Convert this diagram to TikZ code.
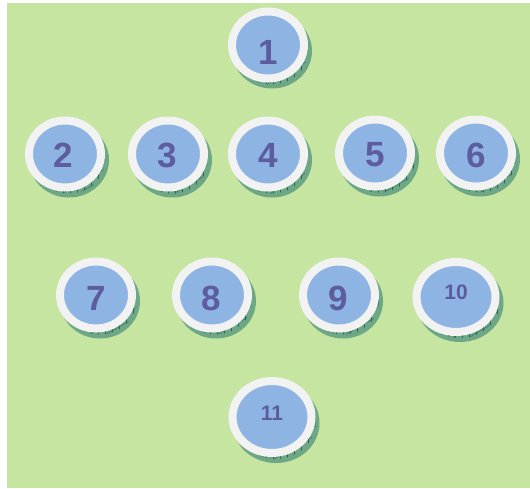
\documentclass[tikz,border=0pt]{standalone}
\usepackage{fontspec}
\setmainfont{Liberation Sans}
\usetikzlibrary{shapes.geometric, patterns.meta}
\definecolor{field}{RGB}{197, 229, 161}
\definecolor{rimwhite}{RGB}{242, 242, 242}
\definecolor{coinblue}{RGB}{141, 180, 226}
\definecolor{digit}{RGB}{92, 92, 158}
\definecolor{edgegreen}{RGB}{128, 182, 146}
\definecolor{edgeline}{RGB}{40, 105, 85}

\begin{document}
\begin{tikzpicture}[x=1pt, y=-1pt,
    token/.style={ellipse, inner sep=0pt, fill=coinblue, draw=rimwhite,
      line width=8pt, minimum width=72pt, minimum height=67pt,
      preaction={fill=edgegreen, draw=edgegreen!80!edgeline, line width=8pt,
        transform canvas={shift={(4pt,-6pt)}}},
      preaction={pattern={Lines[angle=90, distance=7pt, line width=0.5pt]},
        pattern color=edgeline, transform canvas={shift={(4pt,-6pt)}}},
      preaction={pattern={Lines[angle=30, distance=8pt, line width=0.4pt]},
        pattern color=edgeline, transform canvas={shift={(4pt,-6pt)}}}},
    bigtoken/.style={token, minimum width=79pt, minimum height=70pt},
    num/.style={text=digit, font=\fontsize{35}{35}\selectfont\bfseries, inner sep=0pt},
    smallnum/.style={num, font=\fontsize{21}{21}\selectfont\bfseries}]
  \useasboundingbox (0,0) rectangle (530,488);
  \fill[field] (7,3) rectangle (530,488);

  % top
  \node[token] (c1) at (268,45) {};
  % second row
  \node[token] (c2) at (65,154) {};
  \node[token] (c3) at (168,154) {};
  \node[token] (c4) at (268,154) {};
  \node[token] (c5) at (375,153) {};
  \node[token] (c6) at (476,153) {};
  % third row
  \node[token] (c7) at (96,295) {};
  \node[token] (c8) at (212,295) {};
  \node[token] (c9) at (339,295) {};
  \node[bigtoken] (c10) at (456,297) {};
  % bottom
  \node[bigtoken, minimum height=72pt] (c11) at (272,417) {};

  % numbers
  \node[num] (n1) at (268,52) {1};
  \node[num] (n2) at (63,155) {2};
  \node[num] (n3) at (167,155) {3};
  \node[num] (n4) at (268,155) {4};
  \node[num] (n5) at (375,155) {5};
  \node[num] (n6) at (476,155) {6};
  \node[num] (n7) at (96,298) {7};
  \node[num] (n8) at (211,298) {8};
  \node[num] (n9) at (338,298) {9};
  \node[smallnum] (n10) at (456,292.5) {10};
  \node[smallnum] (n11) at (272,413) {11};
\end{tikzpicture}
\end{document}
